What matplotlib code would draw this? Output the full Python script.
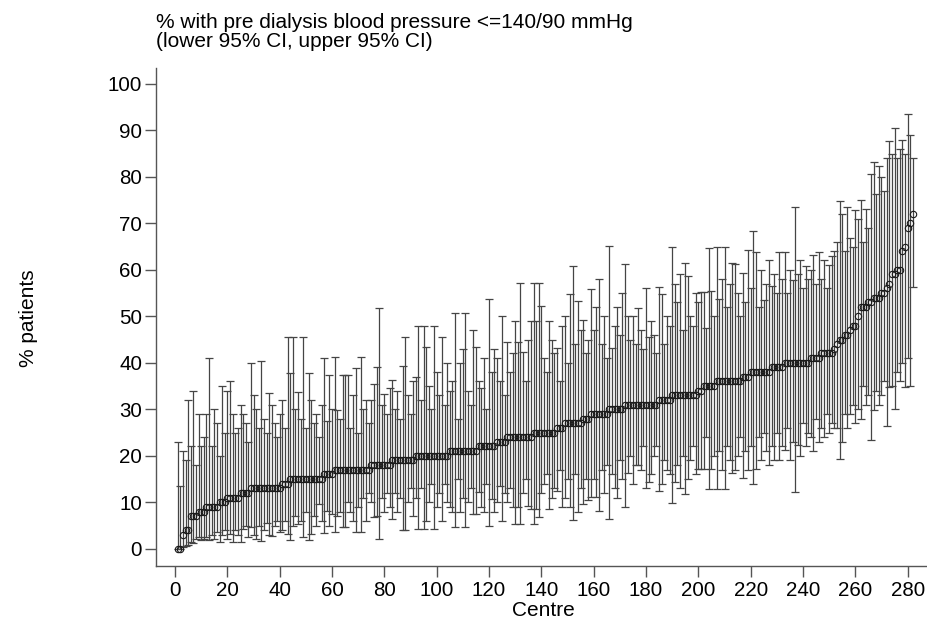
import matplotlib
matplotlib.use("Agg")
import matplotlib.pyplot as plt
import numpy as np

plt.rcParams['font.family'] = ['Liberation Sans', 'DejaVu Sans']

# Point estimate (% with pre dialysis BP <=140/90) per centre, sorted
estimate = [
    0, 0, 3, 4, 4, 7, 7, 7, 8, 8,
    8, 9, 9, 9, 9, 9, 10, 10, 10, 11,
    11, 11, 11, 11, 12, 12, 12, 12, 13, 13,
    13, 13, 13, 13, 13, 13, 13, 13, 13, 13,
    14, 14, 14, 15, 15, 15, 15, 15, 15, 15,
    15, 15, 15, 15, 15, 15, 16, 16, 16, 16,
    17, 17, 17, 17, 17, 17, 17, 17, 17, 17,
    17, 17, 17, 17, 18, 18, 18, 18, 18, 18,
    18, 18, 19, 19, 19, 19, 19, 19, 19, 19,
    19, 20, 20, 20, 20, 20, 20, 20, 20, 20,
    20, 20, 20, 20, 21, 21, 21, 21, 21, 21,
    21, 21, 21, 21, 21, 22, 22, 22, 22, 22,
    22, 22, 23, 23, 23, 23, 24, 24, 24, 24,
    24, 24, 24, 24, 24, 24, 25, 25, 25, 25,
    25, 25, 25, 25, 25, 26, 26, 26, 27, 27,
    27, 27, 27, 27, 27, 28, 28, 28, 29, 29,
    29, 29, 29, 29, 29, 30, 30, 30, 30, 30,
    30, 31, 31, 31, 31, 31, 31, 31, 31, 31,
    31, 31, 31, 31, 32, 32, 32, 32, 32, 33,
    33, 33, 33, 33, 33, 33, 33, 33, 33, 34,
    34, 35, 35, 35, 35, 35, 36, 36, 36, 36,
    36, 36, 36, 36, 36, 36, 37, 37, 37, 38,
    38, 38, 38, 38, 38, 38, 38, 39, 39, 39,
    39, 39, 40, 40, 40, 40, 40, 40, 40, 40,
    40, 40, 41, 41, 41, 41, 42, 42, 42, 42,
    42, 43, 44, 45, 45, 46, 46, 47, 48, 48,
    50, 52, 52, 52, 53, 53, 54, 54, 54, 55,
    55, 56, 57, 59, 59, 60, 60, 64, 65, 69, 70, 72,
]

upper_ci = [
    23, 13.5, 21, 19, 32, 22, 34, 18, 29, 22,
    24, 29, 41, 22, 30, 27, 20, 35, 25, 34,
    36, 29, 25, 26, 31, 29, 27, 23, 40, 33,
    30, 26, 40.4, 28, 25, 33.5, 31, 27, 24, 29,
    32, 26, 45.5, 37.7, 45.5, 30, 33.7, 28, 45.5, 26,
    37.8, 32, 27, 29, 24, 31, 41, 27.5, 37.4, 30,
    41.3, 29.8, 28, 37.3, 37.3, 37.3, 26, 33, 38.8, 25,
    41.3, 30, 32, 27, 32, 35.5, 39.2, 51.7, 31, 33.2,
    29, 34.5, 36.2, 30, 34, 28, 39.3, 45.6, 33, 29,
    36, 37, 48, 32, 48, 43.4, 35, 30, 48, 38,
    33, 45.6, 31, 40, 34, 36, 50.6, 28, 39.9, 43,
    50.6, 34, 31, 47, 43.4, 36, 34.5, 41, 30, 53.7,
    38, 43, 41, 36, 50, 33, 44.5, 38, 42, 49,
    44.5, 57.1, 42.4, 36, 45, 49, 57.1, 49, 57.1, 52.3,
    41, 38, 49, 45, 42, 43.2, 36, 48, 50.1, 40,
    54.9, 60.8, 44, 53.3, 47, 49.3, 42, 45, 55.9, 47,
    52, 58, 44, 50, 41, 65.2, 43.2, 48, 52, 46,
    55, 61.2, 50, 45, 50, 44, 51.8, 47, 43, 56,
    45.6, 49, 46, 42, 56.4, 54.8, 44, 50, 48, 65,
    57, 53, 59, 47, 61.4, 58.6, 50, 48, 55, 53.1,
    55.3, 55.3, 47.4, 64.6, 55.5, 50, 64.9, 53.7, 58, 64.9,
    52, 57, 61.5, 61.3, 55, 50, 59.4, 53, 64.3, 56,
    68.4, 63.9, 52, 60, 53.6, 57, 62, 56.5, 59.2, 55,
    63.8, 58, 63.8, 55, 60, 57.8, 73.6, 59.2, 62, 56,
    60.9, 58, 60, 63.2, 57, 63.9, 58, 62, 56, 61,
    63, 64, 66, 74.8, 72, 64, 73.4, 66.8, 65, 72.9,
    71, 75, 66, 73, 69, 80.7, 83.1, 76.4, 82.3, 80,
    77, 84, 87.6, 85, 90.6, 84, 86, 88, 85, 93.4, 89, 84,
]

lower_ci = [
    0, 0, 0.4, 0.6, 0.9, 1.5, 1.2, 2, 2.5, 1.8,
    2, 2.5, 1.8, 3, 2, 3.5, 1.5, 3, 4, 2,
    3.2, 1.5, 4, 3, 1.4, 4.2, 5, 2.5, 4.6, 3,
    2, 5, 1.6, 4, 5.5, 3, 2.8, 4.8, 6, 3.6,
    4, 6, 3.2, 1.8, 5, 7, 5.4, 6, 2.5, 8,
    1.8, 3.2, 7, 5, 9.6, 6, 3.4, 8.2, 5, 7.5,
    3.6, 7, 8, 4.7, 4.7, 10, 8, 6, 3.6, 9,
    3.6, 11, 6, 12, 10, 6.9, 7, 2.2, 11, 8,
    12, 9, 6.4, 12, 8, 11, 4.1, 4.1, 10, 13,
    7, 11, 4.3, 13, 4.3, 6, 10, 14, 4.3, 9,
    12, 6, 14, 10, 9, 7.9, 4.7, 15, 8, 11,
    4.7, 10, 13, 7.4, 7.4, 12.2, 9, 8, 14, 5,
    10.7, 8, 10, 13.6, 6, 12, 10, 13, 9, 5.4,
    9, 5.4, 12, 15, 9.3, 8.6, 5.4, 8.6, 6.8, 12,
    14, 16, 8.6, 11, 13, 12.5, 17, 9, 11, 15,
    9, 6.1, 16, 7.9, 13, 9.7, 15, 10.4, 11.1, 15,
    11.1, 8.2, 17, 12, 18, 6.4, 16, 13, 11, 19,
    15, 8.9, 16.2, 20, 14, 18, 18, 17, 22, 13,
    14.4, 16, 20, 22, 12.5, 14, 19, 17, 16, 9.8,
    14.4, 18, 13, 20, 11.8, 15, 19, 22, 16, 17.2,
    17.2, 17.2, 24, 12.8, 17.2, 20, 12.9, 21, 17, 12.9,
    22, 19, 16.3, 17, 20, 24, 15.2, 21, 17, 22,
    14, 17.2, 24, 19, 25, 21, 18, 22, 19, 25,
    19, 22, 21.2, 26, 19, 23, 12.2, 22.3, 20, 27,
    22.2, 25, 24, 21, 28, 23, 26, 24, 29, 25,
    27, 26, 26, 19.2, 23, 29, 26, 29, 31, 27,
    30, 28, 35, 31, 33, 23.3, 29.8, 34, 31, 33,
    36, 26.3, 34.8, 35, 30, 38, 36, 40, 34.8, 41, 35, 56.4,
]

x_ticks = list(range(0, 281, 20))
y_ticks = list(range(0, 101, 10))

W, H = 927, 619
fig = plt.figure(figsize=(W / 100, H / 100), dpi=100)
ax = fig.add_axes([156 / W, 1 - 565.5 / H, (W - 156) / W, (565.5 - 68) / H])

centre = np.arange(1, len(estimate) + 1)
est = np.array(estimate, float)
lo = np.array(lower_ci, float)
hi = np.array(upper_ci, float)

ax.errorbar(centre, est, yerr=[est - lo, hi - est], fmt='none',
            ecolor='#454545', elinewidth=0.9, capsize=3.2, capthick=0.9)
ax.plot(centre, est, 'o', mfc='none', mec='#1a1a1a', ms=4.6, mew=0.8)

ax.set_xlim(-7.3, 287.4)
ax.set_ylim(-3.6, 103.4)
ax.set_xticks(x_ticks)
ax.set_yticks(y_ticks)
for s in ['top', 'right']:
    ax.spines[s].set_visible(False)
for s in ['left', 'bottom']:
    ax.spines[s].set_color('#555555')
    ax.spines[s].set_linewidth(1.0)
ax.tick_params(axis='both', direction='out', length=8, width=1.0,
               color='#555555', labelsize=14.8, pad=2)
ax.tick_params(axis='x', pad=3)

fig.text(543 / W, 1 - 616 / H, 'Centre', fontsize=15, ha='center', va='baseline')
fig.text(29 / W, 1 - 318 / H, '% patients', rotation=90, fontsize=15,
         ha='center', va='center')
fig.text(156 / W, 1 - 28 / H, '% with pre dialysis blood pressure <=140/90 mmHg',
         fontsize=15, ha='left', va='baseline')
fig.text(156 / W, 1 - 47 / H, '(lower 95% CI, upper 95% CI)',
         fontsize=15, ha='left', va='baseline')

fig.savefig('out.png', dpi=100)
